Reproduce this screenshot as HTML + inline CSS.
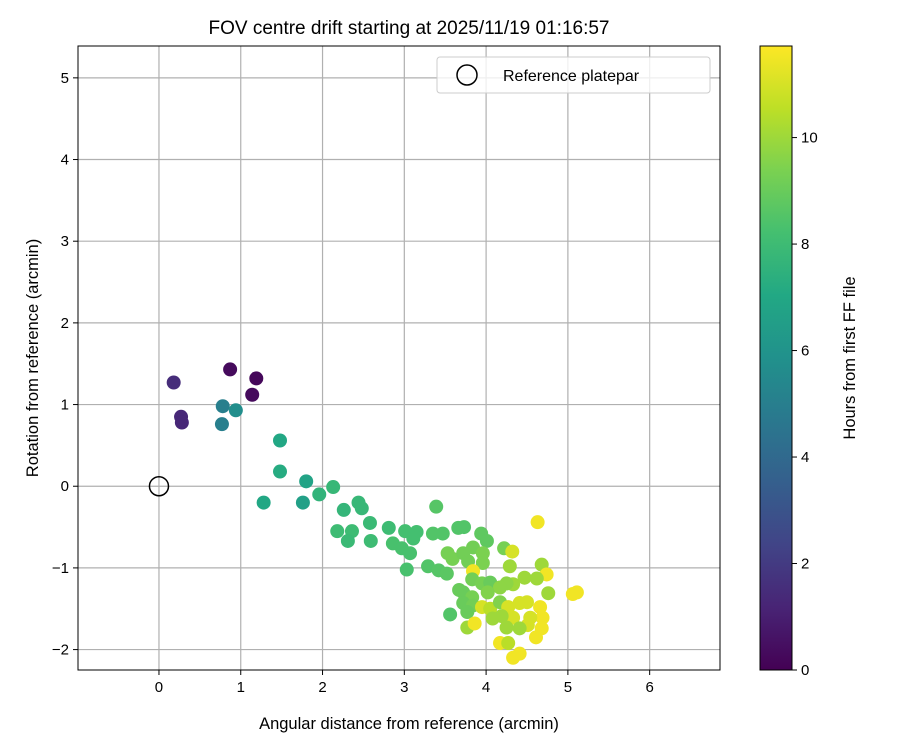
<!DOCTYPE html>
<html><head><meta charset="utf-8"><style>
body{margin:0;background:#fff}
svg text{font-family:"Liberation Sans","DejaVu Sans",sans-serif;fill:#000}
</style></head><body>
<svg id="chart" width="900" height="750" xmlns="http://www.w3.org/2000/svg">
<defs><linearGradient id="vir" x1="0" y1="1" x2="0" y2="0"></linearGradient></defs>
<text x="409" y="34" font-size="19" text-anchor="middle">FOV centre drift starting at 2025/11/19 01:16:57</text>
<g id="grid"></g><g id="pts"></g><g id="axes"></g>
<text x="409" y="729" font-size="16.5" text-anchor="middle">Angular distance from reference (arcmin)</text>
<text transform="translate(38,358) rotate(-90)" font-size="16.5" text-anchor="middle">Rotation from reference (arcmin)</text>
<g>
<rect x="437" y="57" width="273" height="36" rx="3" fill="#fff" fill-opacity="0.8" stroke="#ccc"/>
<circle cx="467" cy="75" r="10" fill="none" stroke="#000" stroke-width="1.5"/>
<text x="503" y="81" font-size="16">Reference platepar</text>
</g>
<g id="cbar"></g>
<text transform="translate(855,358) rotate(-90)" font-size="16.5" text-anchor="middle">Hours from first FF file</text>
</svg>
<script>
const xs=[0.18,0.27,0.28,0.87,1.19,1.14,0.78,0.94,0.77,1.48,1.48,1.28,1.80,1.76,1.96,2.13,2.26,2.44,2.48,2.36,2.58,2.18,2.31,2.59,2.81,3.01,3.15,3.11,2.86,2.97,3.07,3.03,3.39,3.35,3.47,3.66,3.73,3.94,4.01,4.22,4.32,4.63,3.29,3.42,3.52,3.53,3.59,3.72,3.84,3.96,3.78,3.96,3.84,3.83,3.95,4.05,4.29,4.68,4.74,4.62,4.47,4.33,4.25,4.17,4.02,3.67,3.72,4.76,5.06,5.11,3.83,3.72,3.84,3.56,3.77,3.95,4.05,4.17,4.27,4.41,4.50,4.66,4.69,4.54,4.33,4.19,4.08,4.51,4.68,4.61,3.77,3.86,4.25,4.41,4.17,4.27,4.33,4.41];
const ys=[1.27,0.85,0.78,1.43,1.32,1.12,0.98,0.93,0.76,0.56,0.18,-0.20,0.06,-0.20,-0.10,-0.01,-0.29,-0.20,-0.27,-0.55,-0.45,-0.55,-0.67,-0.67,-0.51,-0.55,-0.56,-0.64,-0.70,-0.76,-0.82,-1.02,-0.25,-0.58,-0.58,-0.51,-0.50,-0.58,-0.67,-0.76,-0.80,-0.44,-0.98,-1.03,-1.07,-0.82,-0.89,-0.82,-0.75,-0.82,-0.92,-0.94,-1.04,-1.14,-1.19,-1.18,-0.98,-0.96,-1.08,-1.13,-1.12,-1.20,-1.19,-1.24,-1.30,-1.27,-1.30,-1.31,-1.32,-1.30,-1.36,-1.43,-1.46,-1.57,-1.54,-1.48,-1.50,-1.42,-1.48,-1.43,-1.42,-1.48,-1.61,-1.61,-1.61,-1.59,-1.62,-1.70,-1.74,-1.85,-1.73,-1.68,-1.73,-1.74,-1.92,-1.92,-2.10,-2.05];
const hours=[1.5,1.3,1.3,0.3,0.2,0.3,5.0,5.7,5.0,7.0,7.2,7.0,6.8,6.6,7.6,7.8,7.7,7.8,7.8,8.0,7.9,8.0,7.9,8.0,8.0,8.2,8.2,8.2,8.3,8.3,8.3,8.3,8.6,8.5,8.5,8.5,8.5,8.8,8.8,9.3,11.0,11.5,8.5,8.6,8.7,9.3,9.3,9.2,9.2,9.4,9.2,9.4,11.5,9.2,9.3,9.0,10.0,10.0,11.5,10.0,10.0,10.0,9.7,9.7,9.5,9.0,9.0,10.0,11.5,11.5,9.3,9.0,9.2,8.5,9.0,11.0,10.5,9.5,11.0,11.0,11.0,11.5,11.5,11.0,11.0,10.0,10.0,11.0,11.5,11.5,10.0,11.5,10.0,10.0,11.5,10.5,11.5,11.5];
const xTicks=[0,1,2,3,4,5,6];
const yTicks=[-2,-1,0,1,2,3,4,5];
const cTicks=[0,2,4,6,8,10];
const X0=78,X1=720,Y0=46,Y1=670,XMIN=-0.99,XMAX=6.86,YMIN=-2.25,YMAX=5.39,HMAX=11.72;
const sx=v=>X0+(v-XMIN)/(XMAX-XMIN)*(X1-X0);
const sy=v=>Y1-(v-YMIN)/(YMAX-YMIN)*(Y1-Y0);
const vir=["#440154","#482475","#414487","#355f8d","#2a788e","#21918c","#22a884","#44bf70","#7ad151","#bddf26","#fde725"];
function hex(h){return[1,3,5].map(i=>parseInt(h.substr(i,2),16));}
function cmap(t){t=Math.max(0,Math.min(1,t));const f=t*10,i=Math.min(9,Math.floor(f)),r=f-i;const a=hex(vir[i]),b=hex(vir[i+1]);return "rgb("+a.map((c,k)=>Math.round(c+(b[k]-c)*r)).join(",")+")";}
const NS="http://www.w3.org/2000/svg";
function mk(tag,attrs,parent){const e=document.createElementNS(NS,tag);for(const k in attrs)e.setAttribute(k,attrs[k]);parent.appendChild(e);return e;}
const grid=document.getElementById('grid'),axes=document.getElementById('axes'),pts=document.getElementById('pts'),cb=document.getElementById('cbar');
xTicks.forEach(t=>{const x=sx(t);
 const l=mk('line',{x1:x,x2:x,y1:Y0,y2:Y1,stroke:'#b0b0b0','stroke-width':1.2},grid);
 
 
 mk('line',{x1:x,x2:x,y1:Y1,y2:Y1+5,stroke:'#000'},axes);
 const tx=mk('text',{x:x,y:Y1+22,'font-size':15,'text-anchor':'middle'},axes);tx.textContent=t;
 
 });
yTicks.forEach(t=>{const y=sy(t);
 const l=mk('line',{x1:X0,x2:X1,y1:y,y2:y,stroke:'#b0b0b0','stroke-width':1.2},grid);
 
 
 mk('line',{x1:X0-5,x2:X0,y1:y,y2:y,stroke:'#000'},axes);
 const tx=mk('text',{x:X0-9,y:y+5,'font-size':15,'text-anchor':'end'},axes);tx.textContent=(t<0?'\u2212'+(-t):t);
 
 });
const fr=mk('rect',{x:X0,y:Y0,width:X1-X0,height:Y1-Y0,fill:'none',stroke:'#000','stroke-width':1},axes);


xs.forEach((v,i)=>{const c=mk('circle',{cx:sx(v),cy:sy(ys[i]),r:7,fill:cmap(hours[i]/HMAX)},pts);
 
 });
const ref=mk('circle',{cx:sx(0),cy:sy(0),r:9.5,fill:'none',stroke:'#000','stroke-width':1.5},pts);


const g=document.getElementById('vir');vir.forEach((c,i)=>mk('stop',{offset:i/10,'stop-color':c},g));
const CX=760,CW=32;const ch=h=>Y1-h/HMAX*(Y1-Y0);
const bar=mk('rect',{x:CX,y:Y0,width:CW,height:Y1-Y0,fill:'url(#vir)',stroke:'#000','stroke-width':1},cb);


cTicks.forEach(t=>{const y=ch(t);mk('line',{x1:CX+CW,x2:CX+CW+5,y1:y,y2:y,stroke:'#000'},cb);
 const tx=mk('text',{x:CX+CW+9,y:y+5,'font-size':15},cb);tx.textContent=t;
 
 });
</script>
</body></html>
